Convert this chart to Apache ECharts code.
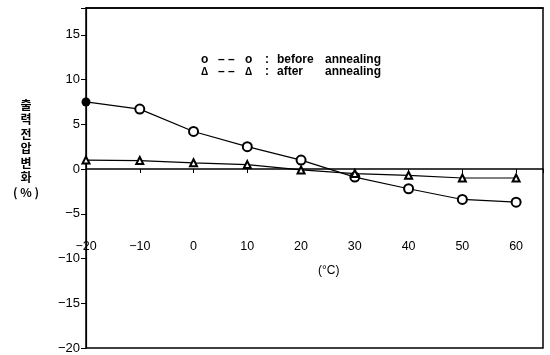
<!DOCTYPE html>
<html>
<head>
<meta charset="utf-8">
<script src="https://cdn.jsdelivr.net/npm/echarts@6/dist/echarts.min.js"></script>
<style>html,body{margin:0;padding:0;background:#fff}#c{width:550px;height:355px}</style>
</head>
<body>
<div id="c"></div>
<script>
var temps = [-20, -10, 0, 10, 20, 30, 40, 50, 60];
var beforeAnnealing = [7.5, 6.7, 4.2, 2.5, 1.0, -0.9, -2.2, -3.4, -3.7];
var afterAnnealing = [1.0, 0.95, 0.7, 0.5, -0.1, -0.5, -0.7, -1.0, -1.0];
var xTicks = [-20, -10, 0, 10, 20, 30, 40, 50, 60];
var yTicks = [-20, -15, -10, -5, 0, 5, 10, 15];
var yTitle = ['출', '력', '전', '압', '변', '화', '( % )'];
var legendWords = ['before', 'after', 'annealing'];
var xTitle = '(°C)';

function fmt(v) { return (v < 0 ? '\u2212' + Math.abs(v) : String(v)); }

var chart = echarts.init(document.getElementById('c'));
var beforeData = temps.map(function (t, i) {
  var d = { value: [t, beforeAnnealing[i]] };
  if (i === 0) { d.symbol = 'circle'; d.itemStyle = { color: '#000' }; }
  return d;
});
var afterData = temps.map(function (t, i) { return [t, afterAnnealing[i]]; });

var legFont = 'bold 12px "Liberation Sans"';
function legText(x, y, t, font) {
  return { type: 'text', x: x, y: y, style: { text: t, fill: '#000', font: font || legFont, verticalAlign: 'middle' } };
}

chart.setOption({
  animation: false,
  backgroundColor: '#fff',
  textStyle: { fontFamily: 'Liberation Sans' },
  grid: { left: 86, right: 7, top: 8, bottom: 7, show: true, borderColor: '#000', borderWidth: 1.5,
          backgroundColor: 'transparent', containLabel: false, outerBoundsMode: 'none' },
  xAxis: [{
    type: 'value', min: -20, max: 65, interval: 10,
    axisLine: { onZero: true, lineStyle: { color: '#000', width: 1.5 } },
    axisTick: { show: true, length: 4, lineStyle: { color: '#000' } },
    axisLabel: { show: false },
    splitLine: { show: false }
  }, {
    type: 'value', min: -20, max: 65, interval: 10, position: 'bottom',
    axisLine: { show: false, onZero: false },
    axisTick: { show: false },
    axisLabel: {
      color: '#000', fontSize: 12.5, margin: -108,
      formatter: function (v) { return xTicks.indexOf(v) >= 0 ? fmt(v) : ''; }
    },
    splitLine: { show: false }
  }, {
    type: 'value', min: -20, max: 65, position: 'top',
    axisLine: { show: true, onZero: false, lineStyle: { color: '#000', width: 1.5 } },
    axisTick: { show: false }, axisLabel: { show: false }, splitLine: { show: false }
  }],
  yAxis: {
    type: 'value', min: -20, max: 18, interval: 5,
    axisLine: { show: true, onZero: false, lineStyle: { color: '#000', width: 1.2 } },
    axisTick: { show: true, length: 5, lineStyle: { color: '#000' } },
    axisLabel: {
      color: '#000', fontSize: 13, margin: 6,
      formatter: function (v) { return yTicks.indexOf(v) >= 0 ? fmt(v) : ''; }
    },
    splitLine: { show: false }
  },
  series: [
    {
      type: 'line', data: beforeData, symbol: 'emptyCircle', symbolSize: 9,
      lineStyle: { color: '#000', width: 1.2 }, itemStyle: { color: '#000', borderWidth: 1.5 }
    },
    {
      type: 'line', data: afterData, symbol: 'emptyTriangle', symbolSize: 7,
      lineStyle: { color: '#000', width: 1.2 }, itemStyle: { color: '#000', borderWidth: 1.5 }
    }
  ],
  graphic: [
    { type: 'text', x: 26, y: 98, style: { text: yTitle.join('\n'), fill: '#000', font: 'bold 12px "Noto Sans CJK KR"', lineHeight: 14.5, align: 'center' } },
    legText(201, 60, 'o'), legText(218, 60, '– –'), legText(245, 60, 'o'), legText(265, 60, ':'),
    legText(277, 60, legendWords[0]), legText(325, 60, legendWords[2]),
    legText(201, 72, 'Δ', 'bold 10px "Liberation Sans"'), legText(218, 72, '– –'), legText(245, 72, 'Δ', 'bold 10px "Liberation Sans"'), legText(265, 72, ':'),
    legText(277, 72, legendWords[1]), legText(325, 72, legendWords[2]),
    { type: 'text', x: 318, y: 265, style: { text: xTitle, fill: '#000', font: '12px "Liberation Sans"' } }
  ]
});
</script>
</body>
</html>
